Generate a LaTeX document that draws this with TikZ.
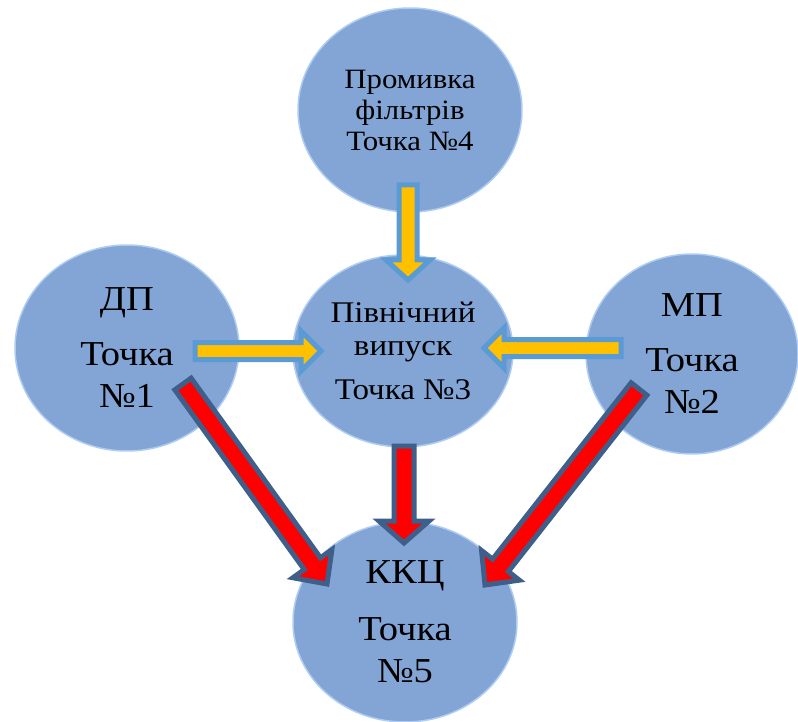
\documentclass[tikz,border=0pt]{standalone}
\usepackage{fontspec}
\setmainfont{Liberation Serif}[FakeStretch=1.1]
\usetikzlibrary{shapes.geometric,calc}
\definecolor{circ}{RGB}{130,165,214}
\definecolor{circrim}{RGB}{175,205,242}
\definecolor{yel}{RGB}{255,192,0}
\definecolor{yelb}{RGB}{91,155,213}
\definecolor{redb}{RGB}{62,95,138}
\tikzset{
  bubble/.style={ellipse,fill=circ,draw=circrim,line width=1.5pt,inner sep=0pt,align=center,text=black},
  topbubble/.style={bubble,font=\fontsize{28}{31}\selectfont},
  midbubble/.style={bubble,font=\fontsize{30}{33}\selectfont},
  bigbubble/.style={bubble,font=\fontsize{35}{42}\selectfont},
  yarrow/.style={fill=yel,draw=yelb,line width=5pt,line join=miter},
  rarrow/.style={fill=red,draw=redb,line width=5pt,line join=miter}
}
% #1 style, #2 tail, #3 tip, #4 shaft half width, #5 head half width, #6 head length
\newcommand\blockarrow[6]{%
  \coordinate (hb) at ($(#3)!#6!(#2)$);
  \draw[#1] ($(#2)!#4!90:(#3)$) -- ($(hb)!#4!90:(#3)$) -- ($(hb)!#5!90:(#3)$)
     -- (#3) -- ($(hb)!#5!-90:(#3)$) -- ($(hb)!#4!-90:(#3)$) -- ($(#2)!#4!-90:(#3)$) -- cycle;
}
\begin{document}
\begin{tikzpicture}[x=1pt,y=-1pt]
\useasboundingbox[fill=white] (0,0) rectangle (798,722);
% circles
\node[topbubble,minimum width=224pt,minimum height=204pt] (n4) at (410,110)
  {Промивка\\фільтрів\\Точка №4};
\node[midbubble,minimum width=220pt,minimum height=192pt] (n3) at (403,351)
  {Північний\\випуск\\[11pt]Точка №3};
\node[bigbubble,minimum width=224pt,minimum height=206pt] (n1) at (127,348)
  {ДП\\[13pt]Точка\\№1};
\node[bigbubble,minimum width=212pt,minimum height=200pt] (n2) at (692,354)
  {МП\\[13pt]Точка\\№2};
\node[bigbubble,minimum width=224pt,minimum height=200pt] (n5) at (405,622)
  {ККЦ\\[15pt]Точка\\№5};
% connector ends
\coordinate (y4s) at (408,185);
\coordinate (y4e) at (408,280);
\coordinate (y1s) at (195,351);
\coordinate (y1e) at (321,351);
\coordinate (y2s) at (621,348);
\coordinate (y2e) at (484,348);
\coordinate (r3s) at (404,446);
\coordinate (r3e) at (404,543);
\coordinate (r1s) at (183,384);
\coordinate (r1e) at (327,584);
\coordinate (r2s) at (639,389);
\coordinate (r2e) at (485,585);
% arrows
\blockarrow{yarrow}{y4s}{y4e}{9pt}{22pt}{20pt}
\blockarrow{yarrow}{y1s}{y1e}{8.5pt}{20pt}{20pt}
\blockarrow{yarrow}{y2s}{y2e}{8.5pt}{20pt}{20pt}
\blockarrow{rarrow}{r3s}{r3e}{10pt}{25pt}{22pt}
\blockarrow{rarrow}{r1s}{r1e}{10pt}{24pt}{25pt}
\blockarrow{rarrow}{r2s}{r2e}{10pt}{24pt}{25pt}
\end{tikzpicture}
\end{document}
